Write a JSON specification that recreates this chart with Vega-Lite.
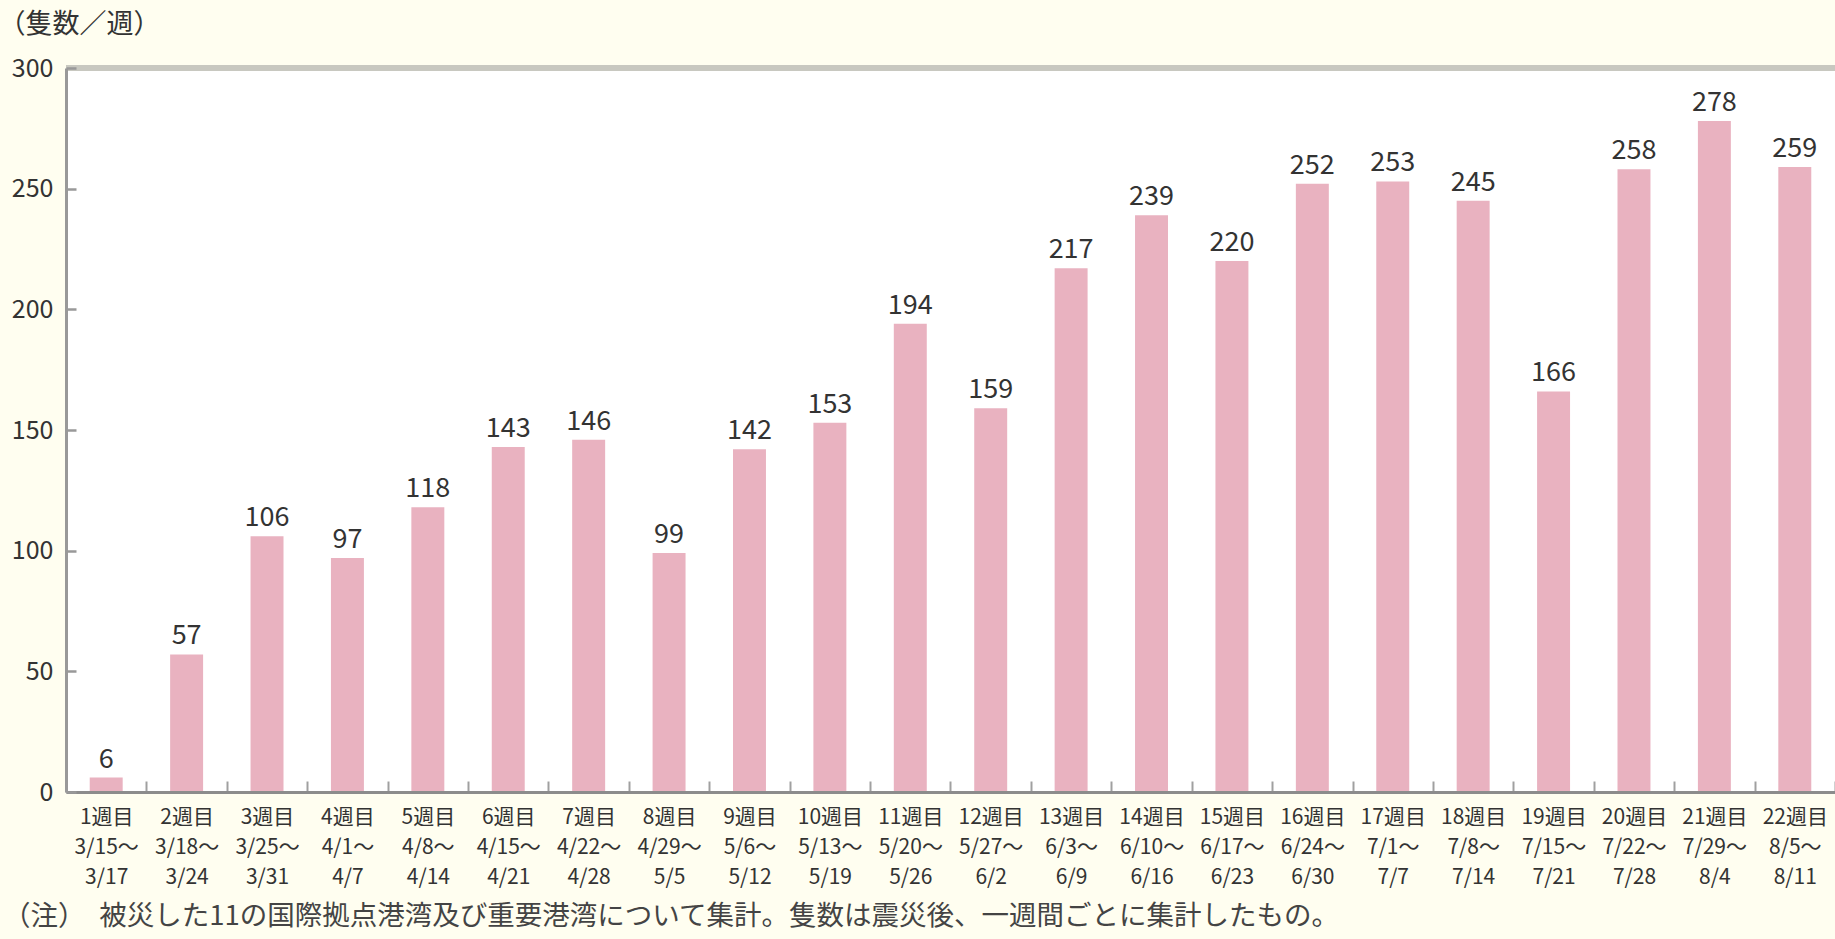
{
  "$schema": "https://vega.github.io/schema/vega-lite/v6.json",
  "autosize": {"type": "none"},
  "padding": {"left": 66, "top": 68, "right": 0, "bottom": 147},
  "width": 1769,
  "height": 724,
  "background": "#FFFEF0",
  "config": {
    "view": {"fill": "#FFFFFF", "stroke": null},
    "font": "Noto Sans CJK JP",
    "axis": {"labelFont": "Noto Sans CJK JP", "titleFont": "Noto Sans CJK JP"}
  },
  "title": {
    "text": "（注）　被災した11の国際拠点港湾及び重要港湾について集計。隻数は震災後、一週間ごとに集計したもの。",
    "orient": "bottom",
    "anchor": "start",
    "frame": "group",
    "dx": -63,
    "offset": 16,
    "fontSize": 27.5,
    "fontWeight": "normal",
    "color": "#444444",
    "font": "Noto Sans CJK JP"
  },
  "data": {
    "values": [
      {"label": "1週目|3/15～|3/17", "ships": 6},
      {"label": "2週目|3/18～|3/24", "ships": 57},
      {"label": "3週目|3/25～|3/31", "ships": 106},
      {"label": "4週目|4/1～|4/7", "ships": 97},
      {"label": "5週目|4/8～|4/14", "ships": 118},
      {"label": "6週目|4/15～|4/21", "ships": 143},
      {"label": "7週目|4/22～|4/28", "ships": 146},
      {"label": "8週目|4/29～|5/5", "ships": 99},
      {"label": "9週目|5/6～|5/12", "ships": 142},
      {"label": "10週目|5/13～|5/19", "ships": 153},
      {"label": "11週目|5/20～|5/26", "ships": 194},
      {"label": "12週目|5/27～|6/2", "ships": 159},
      {"label": "13週目|6/3～|6/9", "ships": 217},
      {"label": "14週目|6/10～|6/16", "ships": 239},
      {"label": "15週目|6/17～|6/23", "ships": 220},
      {"label": "16週目|6/24～|6/30", "ships": 252},
      {"label": "17週目|7/1～|7/7", "ships": 253},
      {"label": "18週目|7/8～|7/14", "ships": 245},
      {"label": "19週目|7/15～|7/21", "ships": 166},
      {"label": "20週目|7/22～|7/28", "ships": 258},
      {"label": "21週目|7/29～|8/4", "ships": 278},
      {"label": "22週目|8/5～|8/11", "ships": 259}
    ]
  },
  "layer": [
    {
      "mark": {"type": "bar", "color": "#E9B2C0", "width": {"band": 0.41}},
      "encoding": {
        "x": {
          "field": "label",
          "type": "nominal",
          "sort": null,
          "scale": {"paddingInner": 0, "paddingOuter": 0},
          "axis": {
            "title": null,
            "zindex": 1,
            "labelAngle": 0,
            "labelExpr": "isString(datum.value) ? split(datum.value, '|') : ''",
            "labelFontSize": 21,
            "labelLineHeight": 30,
            "labelColor": "#333333",
            "labelBaseline": "top",
            "labelPadding": 25,
            "tickBand": "extent",
            "tickSize": -11,
            "tickWidth": 2,
            "tickColor": "#A0A0A0",
            "domainColor": "#8C8C8C",
            "domainWidth": 3
          }
        },
        "y": {
          "field": "ships",
          "type": "quantitative",
          "scale": {"domain": [0, 300], "nice": false},
          "axis": {
            "title": "（隻数／週）",
            "zindex": 1,
            "titleAngle": 0,
            "titleAlign": "left",
            "titleBaseline": "middle",
            "titleX": -68,
            "titleY": -44,
            "titleFontSize": 27,
            "titleFontWeight": "normal",
            "titleColor": "#333333",
            "values": [0, 50, 100, 150, 200, 250, 300],
            "grid": false,
            "labelFontSize": 25,
            "labelColor": "#333333",
            "labelPadding": 23,
            "ticks": true,
            "tickSize": -10,
            "tickWidth": 2.5,
            "tickColor": "#999999",
            "domainColor": "#999999",
            "domainWidth": 3
          }
        }
      }
    },
    {
      "mark": {"type": "text", "baseline": "alphabetic", "dy": -10, "fontSize": 27, "color": "#333333"},
      "encoding": {
        "x": {"field": "label", "type": "nominal", "sort": null},
        "y": {"field": "ships", "type": "quantitative"},
        "text": {"field": "ships", "type": "quantitative"}
      }
    },
    {
      "mark": {"type": "rule", "color": "#C8C8C0", "strokeWidth": 5},
      "encoding": {"y": {"datum": 300}}
    }
  ]
}
